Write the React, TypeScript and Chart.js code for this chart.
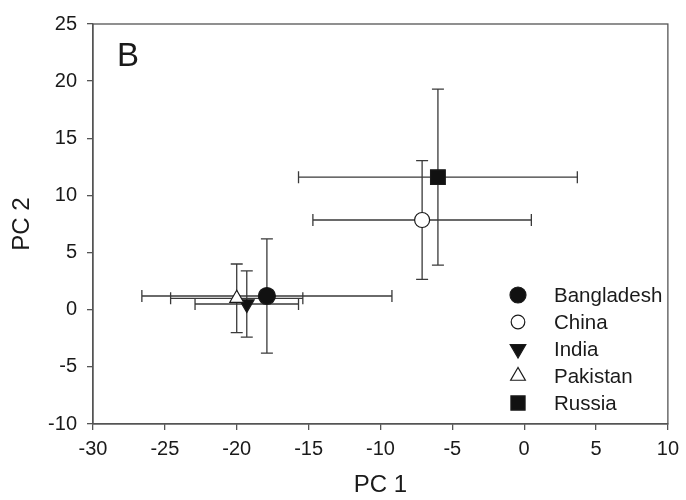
import React, { useEffect, useRef } from "react";
import { Chart, registerables } from "chart.js";

Chart.register(...registerables);

// ---- data ----
const countries = ["Bangladesh", "China", "India", "Pakistan", "Russia"];
const pc1 = [-17.9, -7.1, -19.3, -20.0, -6.0];
const pc2 = [1.2, 7.85, 0.5, 1.0, 11.6];
const pc1Err = [8.7, 7.6, 3.6, 4.6, 9.7];
const pc2Err = [5.0, 5.2, 2.9, 3.0, 7.7];
const xTicks = [-30, -25, -20, -15, -10, -5, 0, 5, 10];
const yTicks = [-10, -5, 0, 5, 10, 15, 20, 25];
const panelLabel = "B";
const xTitle = "PC 1";
const yTitle = "PC 2";

// ---- styles ----
const FONT = "'Liberation Sans', Arial, sans-serif";
const INK = "#1a1a1a";
const AXIS = "#555555";
const BAR = "#3a3a3a";
const markerStyle = [
  { shape: "circle", fill: "#111111", r: 8.5, rot: 0 },
  { shape: "circle", fill: "#ffffff", r: 7.5, rot: 0 },
  { shape: "triangle", fill: "#111111", r: 8.5, rot: 180 },
  { shape: "triangle", fill: "#ffffff", r: 8, rot: 0 },
  { shape: "rect", fill: "#111111", r: 10.4, rot: 0 },
];
const legendMarker = [
  { shape: "circle", fill: "#111111", r: 8 },
  { shape: "circle", fill: "#ffffff", r: 6.8 },
  { shape: "triangle", fill: "#111111", r: 9, rot: 180 },
  { shape: "triangle", fill: "#ffffff", r: 8.5, rot: 0 },
  { shape: "rect", fill: "#111111", r: 10 },
];

function drawMarker(ctx: CanvasRenderingContext2D, m: any, x: number, y: number) {
  ctx.save();
  ctx.beginPath();
  if (m.shape === "circle") {
    ctx.arc(x, y, m.r, 0, Math.PI * 2);
  } else if (m.shape === "rect") {
    const s = m.r * Math.SQRT1_2;
    ctx.rect(x - s, y - s, 2 * s, 2 * s);
  } else {
    const down = m.rot === 180;
    const r = m.r;
    const h = (Math.sqrt(3) / 2) * r;
    if (down) {
      ctx.moveTo(x, y + r);
      ctx.lineTo(x - h, y - r / 2);
      ctx.lineTo(x + h, y - r / 2);
    } else {
      ctx.moveTo(x, y - r);
      ctx.lineTo(x - h, y + r / 2);
      ctx.lineTo(x + h, y + r / 2);
    }
    ctx.closePath();
  }
  ctx.fillStyle = m.fill;
  ctx.fill();
  ctx.lineWidth = 1.2;
  ctx.strokeStyle = INK;
  ctx.stroke();
  ctx.restore();
}

const errorBarPlugin = {
  id: "errorBars",
  beforeDatasetsDraw(chart: any) {
    const { ctx, scales } = chart;
    const xs = scales.x;
    const ys = scales.y;
    const cap = 6;
    ctx.save();
    ctx.strokeStyle = BAR;
    ctx.lineWidth = 1.3;
    for (let i = 0; i < countries.length; i++) {
      const cx = xs.getPixelForValue(pc1[i]);
      const cy = ys.getPixelForValue(pc2[i]);
      const x0 = xs.getPixelForValue(pc1[i] - pc1Err[i]);
      const x1 = xs.getPixelForValue(pc1[i] + pc1Err[i]);
      const y0 = ys.getPixelForValue(pc2[i] - pc2Err[i]);
      const y1 = ys.getPixelForValue(pc2[i] + pc2Err[i]);
      ctx.beginPath();
      ctx.moveTo(x0, cy);
      ctx.lineTo(x1, cy);
      ctx.moveTo(x0, cy - cap);
      ctx.lineTo(x0, cy + cap);
      ctx.moveTo(x1, cy - cap);
      ctx.lineTo(x1, cy + cap);
      ctx.moveTo(cx, y0);
      ctx.lineTo(cx, y1);
      ctx.moveTo(cx - cap, y0);
      ctx.lineTo(cx + cap, y0);
      ctx.moveTo(cx - cap, y1);
      ctx.lineTo(cx + cap, y1);
      ctx.stroke();
    }
    ctx.restore();
  },
  afterDatasetsDraw(chart: any) {
    const { ctx, scales } = chart;
    for (let i = 0; i < countries.length; i++) {
      drawMarker(
        ctx,
        markerStyle[i],
        scales.x.getPixelForValue(pc1[i]),
        scales.y.getPixelForValue(pc2[i])
      );
    }
  },
  afterDraw(chart: any) {
    const { ctx, chartArea } = chart;
    ctx.save();
    // frame
    ctx.strokeStyle = AXIS;
    ctx.lineWidth = 1.3;
    ctx.strokeRect(chartArea.left, chartArea.top, chartArea.right - chartArea.left, chartArea.bottom - chartArea.top);
    // panel label
    ctx.fillStyle = INK;
    ctx.font = `33px ${FONT}`;
    ctx.textBaseline = "alphabetic";
    ctx.textAlign = "left";
    ctx.fillText(panelLabel, chartArea.left + 24, chartArea.top + 42);
    // legend
    const lx = chartArea.left + 425;
    const tx = chartArea.left + 461;
    const y0 = chartArea.top + 271;
    const dy = 27;
    ctx.font = `20.5px ${FONT}`;
    ctx.textBaseline = "middle";
    for (let i = 0; i < countries.length; i++) {
      const y = y0 + i * dy;
      drawMarker(ctx, legendMarker[i], lx, y);
      ctx.fillStyle = INK;
      ctx.fillText(countries[i], tx, y + 1);
    }
    ctx.restore();
  },
};

export default function App() {
  const ref = useRef<HTMLCanvasElement | null>(null);
  useEffect(() => {
    if (!ref.current) return;
    const datasets = countries.map((c, i) => ({
      label: c,
      data: [{ x: pc1[i], y: pc2[i] }],
      pointRadius: 0,
      showLine: false,
    }));
    const chart = new Chart(ref.current, {
      type: "scatter",
      data: { datasets },
      options: {
        animation: false,
        responsive: true,
        maintainAspectRatio: false,
        layout: { padding: { top: 24, right: 16, left: 0, bottom: 0 } },
        plugins: { legend: { display: false }, tooltip: { enabled: false } },
        scales: {
          x: {
            type: "linear",
            min: -30,
            max: 10,
            afterBuildTicks: (s: any) => {
              s.ticks = xTicks.map((v) => ({ value: v }));
            },
            afterFit: (s: any) => {
              s.height = 76;
            },
            grid: { drawOnChartArea: false, drawTicks: true, tickLength: 6, color: AXIS, lineWidth: 1.3 },
            border: { display: true, color: AXIS, width: 1.3 },
            ticks: { color: INK, font: { family: FONT, size: 20 }, padding: 7, maxRotation: 0 },
            title: { display: true, text: xTitle, color: INK, font: { family: FONT, size: 24 }, padding: { top: 0, bottom: 0 } },
          },
          y: {
            type: "linear",
            min: -10,
            max: 25,
            afterBuildTicks: (s: any) => {
              s.ticks = yTicks.map((v) => ({ value: v }));
            },
            afterFit: (s: any) => {
              s.width = 93;
            },
            grid: { drawOnChartArea: false, drawTicks: true, tickLength: 6, color: AXIS, lineWidth: 1.3 },
            border: { display: true, color: AXIS, width: 1.3 },
            ticks: { color: INK, font: { family: FONT, size: 20 }, padding: 10 },
            title: { display: true, text: yTitle, color: INK, font: { family: FONT, size: 24 }, padding: { top: 8, bottom: 0 } },
          },
        },
      },
      plugins: [errorBarPlugin],
    });
    return () => chart.destroy();
  }, []);
  return (
    <div style={{ position: "absolute", left: 0, top: 0, width: 686, height: 500, background: "#fff" }}>
      <canvas ref={ref} />
    </div>
  );
}
